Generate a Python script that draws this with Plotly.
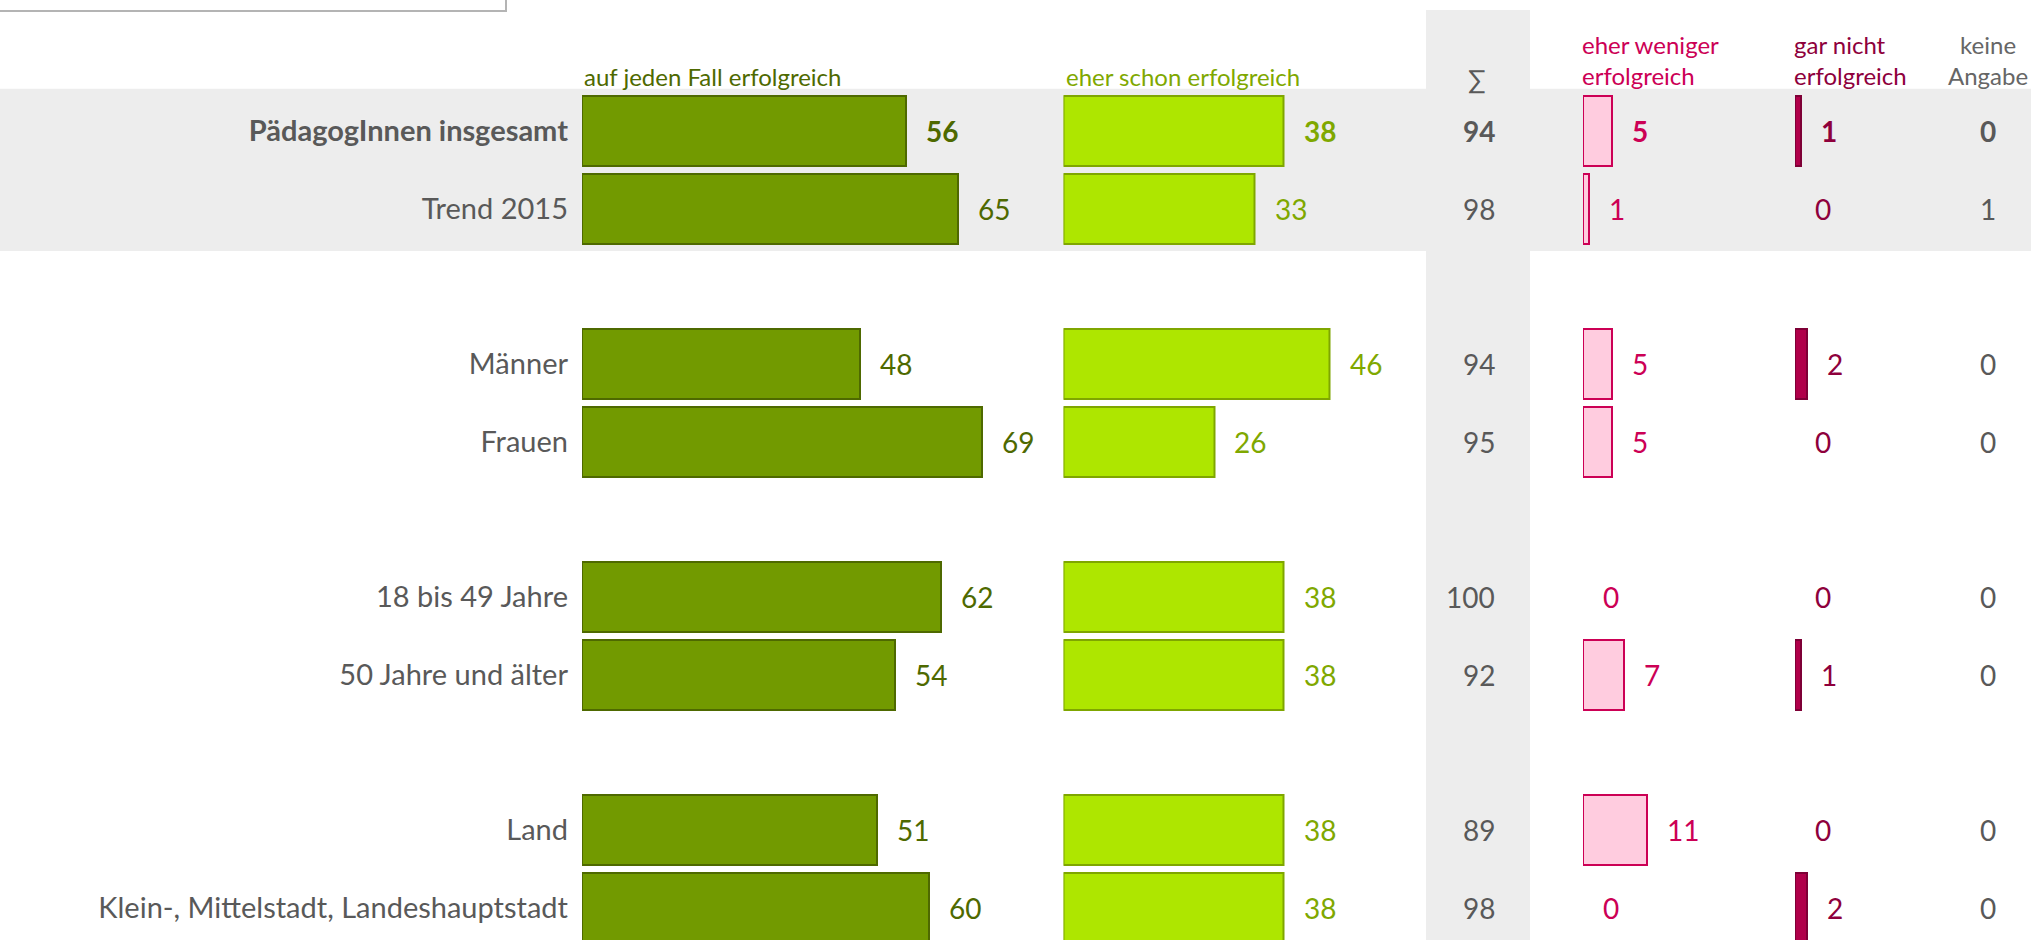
import plotly.graph_objects as go

# ---------------- data ----------------
categories = ["PädagogInnen insgesamt", "Trend 2015", "Männer", "Frauen",
              "18 bis 49 Jahre", "50 Jahre und älter", "Land",
              "Klein-, Mittelstadt, Landeshauptstadt"]
auf_jeden_fall = [56, 65, 48, 69, 62, 54, 51, 60]
eher_schon = [38, 33, 46, 26, 38, 38, 38, 38]
summe = [94, 98, 94, 95, 100, 92, 89, 98]
eher_weniger = [5, 1, 5, 5, 0, 7, 11, 0]
gar_nicht = [1, 0, 2, 0, 0, 1, 0, 2]
keine_angabe = [0, 1, 0, 0, 0, 0, 0, 0]

headers = ["auf jeden Fall erfolgreich", "eher schon erfolgreich", "∑",
           "eher weniger<br>erfolgreich", "gar nicht<br>erfolgreich", "keine<br>Angabe"]

# ---------------- layout helpers ----------------
W, H = 2031, 940
FONT = "Lato"
PX_PER_UNIT = 5.79
ROW0_PX, PITCH = 131.0, 77.7

# rows are grouped in pairs with one empty slot between groups
slots = [i + i // 2 for i in range(len(categories))]

def px(x):
    return x / W

def py(y):
    return 1 - y / H

# column geometry (pixel left edge, pixel right edge of the axis domain)
cols = [(582, 1050), (1063.5, 1420), (1583, 1780), (1795, 1940)]

fill_cols = ["#729A00", "#AEE600", "#FFCCDF", "#B0004A"]
line_cols = ["#4E6900", "#7FA600", "#CC0055", "#7E0036"]
text_cols = ["#4E6900", "#7FA800", "#CC0055", "#8E003C"]
grey_txt = "#595959"
band = "#EDEDED"

series = [auf_jeden_fall, eher_schon, eher_weniger, gar_nicht]

fig = go.Figure()
for k, vals in enumerate(series):
    axn = "" if k == 0 else str(k + 1)
    fig.add_trace(go.Bar(
        x=vals, y=slots, orientation="h", width=0.9,
        marker=dict(color=fill_cols[k],
                    line=dict(color=line_cols[k],
                              width=[2 if v > 0 else 0 for v in vals])),
        xaxis="x" + axn, yaxis="y", hoverinfo="skip", showlegend=False,
    ))

annotations = []
# value labels next to bars
for k, vals in enumerate(series):
    axn = "" if k == 0 else str(k + 1)
    for i, v in enumerate(vals):
        t = str(v)
        if i == 0:
            t = "<b>" + t + "</b>"
        annotations.append(dict(
            x=v, y=slots[i], xref="x" + axn, yref="y", text=t, showarrow=False,
            xanchor="left", yanchor="middle", xshift=18,
            font=dict(family=FONT, size=28, color=text_cols[k])))

# sum column
for i, v in enumerate(summe):
    t = str(v) if i else "<b>%d</b>" % v
    annotations.append(dict(
        x=px(1497), y=slots[i], xref="paper", yref="y", text=t, showarrow=False,
        xanchor="right", yanchor="middle",
        font=dict(family=FONT, size=28, color=grey_txt)))

# keine Angabe column
for i, v in enumerate(keine_angabe):
    t = str(v) if i else "<b>%d</b>" % v
    annotations.append(dict(
        x=px(1988), y=slots[i], xref="paper", yref="y", text=t, showarrow=False,
        xanchor="center", yanchor="middle",
        font=dict(family=FONT, size=28, color=grey_txt)))

# headers
hdr_specs = [
    (582, 76, "left", "#4E6900", 24),
    (1063.5, 76, "left", "#7FA800", 24),
    (1477, 79, "center", grey_txt, 26),
    (1580, 60.5, "left", "#CC0055", 24),
    (1792, 60.5, "left", "#8E003C", 24),
    (1988, 60.5, "center", "#666666", 24),
]
for txt, (hx, hy, anc, col, sz) in zip(headers, hdr_specs):
    annotations.append(dict(
        x=px(hx), y=py(hy), xref="paper", yref="paper", text=txt, showarrow=False,
        xanchor=anc, yanchor="middle", align=anc,
        font=dict(family=FONT, size=sz, color=col)))

shapes = [
    # grey band behind the total rows
    dict(type="rect", xref="paper", yref="y", x0=-0.01, x1=1.01, y0=-0.545, y1=1.545,
         fillcolor=band, line=dict(width=0), layer="below"),
    # grey band behind the sum column
    dict(type="rect", xref="paper", yref="paper", x0=px(1426), x1=px(1530), y0=-0.01, y1=py(10),
         fillcolor=band, line=dict(width=0), layer="below"),
    # top-left box (partially outside view)
    dict(type="rect", xref="paper", yref="paper", x0=-0.01, x1=px(506), y0=py(11), y1=1.02,
         fillcolor="white", line=dict(color="#B4B4B4", width=2), layer="above"),
]

layout = dict(
    width=W, height=H, margin=dict(l=0, r=0, t=0, b=0),
    paper_bgcolor="white", plot_bgcolor="rgba(0,0,0,0)",
    bargap=0, barmode="overlay",
    annotations=annotations, shapes=shapes,
    yaxis=dict(range=[(H - ROW0_PX) / PITCH, -ROW0_PX / PITCH], autorange=False,
               domain=[0, 1], anchor="x",
               tickvals=slots,
               ticktext=["<b>" + categories[0] + "</b>"] + categories[1:],
               tickfont=dict(family=FONT, size=29, color=grey_txt),
               ticks="", showgrid=False, zeroline=False, showline=False,
               ticklabelstandoff=13, fixedrange=True),
)
for k, (l, r) in enumerate(cols):
    name = "xaxis" if k == 0 else "xaxis%d" % (k + 1)
    layout[name] = dict(domain=[px(l), px(r)], range=[0, (r - l) / PX_PER_UNIT],
                        anchor="y", visible=False, fixedrange=True)

fig.update_layout(**layout)
fig.write_html("out.html", config={"displayModeBar": False})
